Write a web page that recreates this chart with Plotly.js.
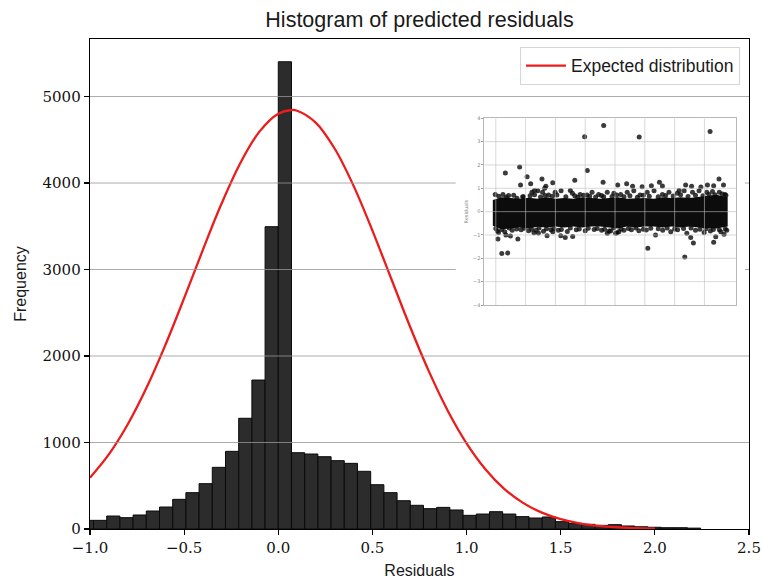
<!DOCTYPE html>
<html><head><meta charset="utf-8">
<script src="https://cdn.plot.ly/plotly-3.0.1.min.js"></script>
<style>html,body{margin:0;padding:0;background:#fff;} #chart{width:762px;height:583px;}</style>
</head><body><div id="chart"></div>
<script>
// ---- main histogram data ----
const binWidth = 0.0701;
const firstBinIndex = -15;
const counts = [100, 100, 150, 131, 162, 208, 254, 343, 420, 524, 713, 898, 1280, 1722, 3495, 5402,
  882, 867, 836, 790, 759, 667, 512, 420, 327, 274, 235, 250, 220, 158, 173, 200, 173, 143, 127, 139,
  85, 65, 54, 42, 50, 35, 26, 20, 15, 15, 10];

// ---- expected distribution curve ----
const curveX = [-1.0,-0.9,-0.8,-0.7,-0.6,-0.5,-0.4,-0.3,-0.2,-0.1,0.0,0.07,0.1,0.2,0.3,0.4,0.5,0.6,0.7,0.8,0.9,1.0,1.1,1.2,1.3,1.4,1.5,1.6,1.7,1.8,1.9,2.0];
const curveY = [593,862,1208,1632,2126,2669,3230,3768,4238,4594,4800,4844,4836,4696,4396,3967,3450,2893,2338,1822,1368,991,692,465,302,189,114,66,37,20,10,5];

const xTicks = [-1.0,-0.5,0.0,0.5,1.0,1.5,2.0,2.5];
const yTicks = [0,1000,2000,3000,4000,5000];
const xRange = [-1.0, 2.5];
const yRange = [0, 5665];

// ---- inset scatter (residuals vs sample) ----
const bandX      = [-0.1, 0.2, 0.5, 0.8, 1.1, 1.4, 1.7, 2.0, 2.3, 2.6, 2.9, 3.2, 3.5, 3.8, 4.1, 4.4, 4.7, 5.0, 5.3, 5.6, 5.9, 6.2, 6.5, 6.8, 7.1, 7.4, 7.78];
const bandTop    = [0.5, 0.62, 0.58, 0.55, 0.6, 0.55, 0.62, 0.55, 0.58, 0.55, 0.62, 0.58, 0.55, 0.58, 0.62, 0.55, 0.58, 0.58, 0.55, 0.62, 0.58, 0.62, 0.58, 0.62, 0.68, 0.72, 0.62];
const bandBottom = [-0.6,-0.75,-0.7,-0.68,-0.72,-0.65,-0.68,-0.64,-0.68,-0.64,-0.68,-0.64,-0.64,-0.68,-0.72,-0.64,-0.68,-0.64,-0.64,-0.68,-0.64,-0.68,-0.64,-0.68,-0.72,-0.72,-0.64];
const fringeX = [-0.02,0.24,0.43,0.71,0.93,1.21,1.41,1.57,1.77,1.99,2.19,2.50,2.57,2.83,3.06,3.23,3.45,3.62,3.74,3.96,4.19,4.41,4.63,4.84,5.08,5.31,5.59,5.81,6.09,6.32,6.60,6.82,7.08,7.27,7.50,7.69,
  0.1,0.35,0.6,0.9,1.15,1.3,1.5,1.65,1.9,2.05,2.35,2.65,2.75,2.95,3.15,3.35,3.55,3.9,4.05,4.3,4.5,4.75,4.95,5.15,5.45,5.7,5.95,6.2,6.45,6.7,6.95,7.15,7.35,7.6,7.72,
  0.05,0.3,0.55,0.85,1.1,1.35,1.6,1.85,2.1,2.4,2.7,3.0,3.3,3.55,3.8,4.3,4.55,4.8,5.05,5.6,6.1,6.7,7.2,7.55,7.75,
  0.0,0.2,0.45,0.7,0.95,1.2,1.45,1.7,1.95,2.2,2.5,2.8,3.1,3.4,3.65,3.95,4.2,4.45,4.7,4.95,5.2,5.45,5.75,6.0,6.3,6.55,6.85,7.05,7.3,7.5,7.7];
const fringeY = [0.74,0.74,0.69,0.57,0.64,0.83,0.89,0.83,0.71,0.83,0.89,0.91,0.79,0.74,0.71,0.83,0.74,0.64,0.83,0.79,0.74,0.83,0.89,0.71,0.83,0.89,0.74,0.83,0.79,0.89,0.83,0.89,0.83,0.86,0.83,0.74,
  0.66,0.62,0.7,0.64,0.68,0.72,0.63,0.69,0.66,0.71,0.64,0.68,0.62,0.7,0.66,0.63,0.69,0.65,0.71,0.64,0.68,0.62,0.7,0.66,0.64,0.69,0.67,0.72,0.65,0.7,0.68,0.74,0.72,0.76,0.7,
  -0.82,-0.86,-0.8,-0.78,-0.82,-0.8,-0.84,-0.78,-0.8,-0.85,-0.78,-0.82,-0.76,-0.8,-0.83,-0.8,-0.78,-0.82,-0.79,-0.8,-0.78,-0.8,-0.83,-0.86,-0.8,
  -0.72,-0.76,-0.7,-0.74,-0.71,-0.75,-0.7,-0.73,-0.72,-0.76,-0.7,-0.74,-0.71,-0.72,-0.75,-0.7,-0.74,-0.72,-0.7,-0.75,-0.71,-0.73,-0.7,-0.74,-0.72,-0.7,-0.75,-0.73,-0.76,-0.78,-0.74];
const outlierX = [3.62,2.98,4.81,7.19,0.80,0.32,3.07,1.05,1.55,2.65,0.83,1.17,1.91,1.68,1.64,1.30,3.60,4.09,4.39,4.59,4.91,5.22,5.49,5.59,6.15,6.37,6.57,6.88,7.10,7.31,7.49,7.64,
  0.07,0.20,0.40,0.34,0.49,0.74,1.43,1.72,1.91,2.18,2.33,2.58,1.28,0.09,3.74,3.85,4.07,5.10,6.34,6.63,6.54,7.31,7.38,7.66,4.02,4.13,5.36,5.87,6.41,6.99];
const outlierY = [3.69,3.21,3.2,3.43,1.91,1.66,1.76,1.5,1.4,1.34,1.14,1.19,1.24,1.09,1.0,0.91,1.26,1.14,1.2,1.09,1.07,1.11,1.26,1.1,0.91,1.14,1.09,1.06,1.14,1.11,1.4,1.14,
  -1.17,-1.79,-1.77,-1.0,-1.04,-1.17,-0.91,-1.03,-0.86,-1.03,-1.11,-1.06,-0.9,-0.89,-0.93,-0.83,-0.9,-1.57,-1.94,-1.34,-1.11,-1.31,-1.07,-0.97,-0.93,-0.86,-1.0,-0.86,-0.93,-0.89];
const insetXGrid = [0,1,2,3,4,5,6,7];
const insetYTicks = [-4,-3,-2,-1,0,1,2,3,4];
const insetXRange = [-0.38, 8.06];
const insetYRange = [-4, 4];

// ---- layout geometry ----
const cardDomX = [0.5549, 0.9939], cardDomY = [0.4429, 0.8592];
const insetDomX = [0.5986, 0.9803], insetDomY = [0.4571, 0.8382];

const binCenters = counts.map((c, i) => (firstBinIndex + i + 0.5) * binWidth);

const traces = [
  {type:'bar', x: binCenters, y: counts, width: binWidth, xaxis:'x', yaxis:'y',
   marker:{color:'rgb(44,44,44)', line:{color:'rgb(10,10,10)', width:1}},
   showlegend:false, hoverinfo:'skip'},
  {type:'scatter', mode:'lines', x: curveX, y: curveY, name:'Expected distribution',
   line:{color:'rgb(236,28,28)', width:2.3, shape:'spline'}, xaxis:'x', yaxis:'y'},
  {type:'scatter', mode:'markers', x:[], y:[], xaxis:'x2', yaxis:'y2', showlegend:false, hoverinfo:'skip'},
  {type:'scatter', mode:'lines', xaxis:'x3', yaxis:'y3', showlegend:false, hoverinfo:'skip',
   x: bandX.concat(bandX.slice().reverse()),
   y: bandTop.concat(bandBottom.slice().reverse()),
   fill:'toself', fillcolor:'rgb(12,12,12)', line:{width:0, color:'rgb(12,12,12)'}},
  {type:'scatter', mode:'markers', xaxis:'x3', yaxis:'y3', showlegend:false, hoverinfo:'skip',
   x: fringeX.concat(outlierX), y: fringeY.concat(outlierY),
   marker:{size:5, color:'rgba(10,10,10,0.8)', line:{width:0}}}
];

// gridlines of main plot drawn above bars (split around the inset card)
const shapes = [];
const gridStyle = {color:'rgba(150,150,150,0.8)', width:1};
yTicks.forEach(v => {
  if (v === 0) return;
  const p = (v - yRange[0]) / (yRange[1] - yRange[0]);
  const segs = (p > cardDomY[0] && p < cardDomY[1]) ? [[0, cardDomX[0]], [cardDomX[1], 1]] : [[0, 1]];
  segs.forEach(s => shapes.push({type:'line', xref:'paper', yref:'y', x0:s[0], x1:s[1], y0:v, y1:v, line:gridStyle, layer:'above'}));
});
const insetGrid = {color:'rgba(190,190,190,0.6)', width:1};
insetXGrid.forEach(v => shapes.push({type:'line', xref:'x3', yref:'y3', x0:v, x1:v, y0:insetYRange[0], y1:insetYRange[1], line:insetGrid, layer:'above'}));
insetYTicks.slice(1, -1).forEach(v => shapes.push({type:'line', xref:'x3', yref:'y3', x0:insetXRange[0], x1:insetXRange[1], y0:v, y1:v, line:insetGrid, layer:'above'}));

const tickFont = {family:'DejaVu Serif', size:15, color:'#111'};
const layout = {
  width:762, height:583,
  margin:{l:90, r:13, t:39, b:54},
  paper_bgcolor:'#fff', plot_bgcolor:'#fff',
  title:{text:'Histogram of predicted residuals', font:{family:'Liberation Sans', size:21.5, color:'#1a1a1a'},
         x:0.5, xref:'paper', xanchor:'center', y:1 - 19/583, yref:'container', yanchor:'middle'},
  xaxis:{range:xRange, tickvals:xTicks, tickformat:'.1f', ticks:'outside', ticklen:5, tickwidth:1.2, tickcolor:'#000',
         showline:true, mirror:true, linecolor:'#000', linewidth:1.3, showgrid:false, zeroline:false, automargin:false,
         tickfont:tickFont, title:{text:'Residuals', font:{family:'Liberation Sans', size:16, color:'#1a1a1a'}, standoff:8}},
  yaxis:{range:yRange, tickvals:yTicks, ticks:'outside', ticklen:5, tickwidth:1.2, tickcolor:'#000',
         showline:true, mirror:true, linecolor:'#000', linewidth:1.3, showgrid:false, zeroline:false, automargin:false,
         tickfont:tickFont, title:{text:'Frequency', font:{family:'Liberation Sans', size:16, color:'#1a1a1a'}, standoff:12}},
  xaxis2:{domain:cardDomX, range:[0,1], visible:false, anchor:'y2', fixedrange:true},
  yaxis2:{domain:cardDomY, range:[0,1], visible:false, anchor:'x2', fixedrange:true},
  xaxis3:{domain:insetDomX, range:insetXRange, anchor:'y3', showticklabels:false, ticks:'', showgrid:false, zeroline:false,
          showline:true, mirror:true, linecolor:'#b8b8b8', linewidth:1, automargin:false},
  yaxis3:{domain:insetDomY, range:insetYRange, anchor:'x3', tickvals:insetYTicks, ticks:'outside', ticklen:2, tickcolor:'#999',
          tickfont:{family:'DejaVu Sans', size:5, color:'#888'}, showgrid:false, zeroline:false,
          showline:true, mirror:true, linecolor:'#b8b8b8', linewidth:1, automargin:false,
          title:{text:'Residuals', font:{family:'DejaVu Sans', size:5, color:'#888'}, standoff:4}},
  legend:{x:0.9863, xanchor:'right', y:0.9843, yanchor:'top', bgcolor:'#fff', bordercolor:'#d6d6d6', borderwidth:1,
          font:{family:'Liberation Sans', size:17.5, color:'#1a1a1a'}, itemwidth:40},
  shapes: shapes
};
Plotly.newPlot('chart', traces, layout, {staticPlot:true, displayModeBar:false});
</script>
</body></html>
